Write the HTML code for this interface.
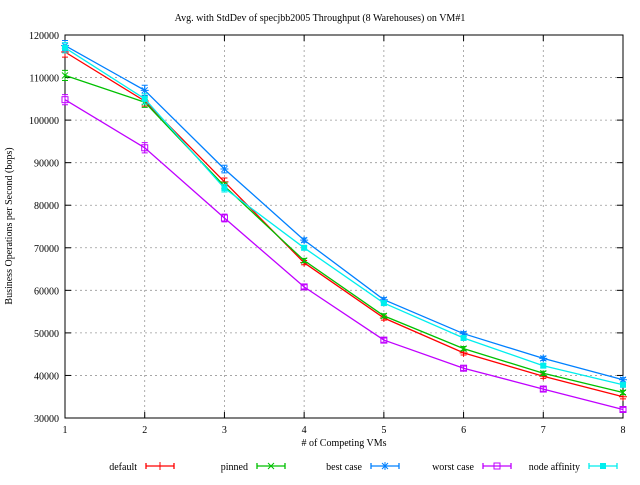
<!DOCTYPE html>
<html><head><meta charset="utf-8"><style>
html,body{margin:0;padding:0;background:#fff}
svg text{font-family:"Liberation Serif",serif;font-size:10px;fill:#000}
</style></head><body>
<svg id="s" width="640" height="480" xmlns="http://www.w3.org/2000/svg"></svg>
<script>
var s=document.getElementById('s'),h='';
var L=65,R=623,T=35,B=418;
function X(i){return L+(i-1)*(R-L)/7}
function Y(v){return B-(v-30000)/90000*(B-T)}
h+='<rect width="640" height="480" fill="#fff"/>';
h+='<text x="320" y="21" text-anchor="middle">Avg. with StdDev of specjbb2005 Throughput (8 Warehouses) on VM#1</text>';
for(var v=30000;v<=120000;v+=10000){var y=Y(v);
 if(v>30000&&v<120000)h+='<line x1="'+L+'" x2="'+R+'" y1="'+y+'" y2="'+y+'" stroke="#999" stroke-width="0.8" stroke-dasharray="2,3"/>';
 h+='<line x1="'+L+'" x2="'+(L+6)+'" y1="'+y+'" y2="'+y+'" stroke="#000"/><line x1="'+R+'" x2="'+(R-6)+'" y1="'+y+'" y2="'+y+'" stroke="#000"/>';
 h+='<text x="'+(L-6)+'" y="'+(y+4)+'" text-anchor="end">'+v+'</text>';}
for(var i=1;i<=8;i++){var x=X(i);
 if(i>1&&i<8)h+='<line x1="'+x+'" x2="'+x+'" y1="'+T+'" y2="'+B+'" stroke="#999" stroke-width="0.8" stroke-dasharray="2,3"/>';
 h+='<line x1="'+x+'" x2="'+x+'" y1="'+B+'" y2="'+(B-6)+'" stroke="#000"/><line x1="'+x+'" x2="'+x+'" y1="'+T+'" y2="'+(T+6)+'" stroke="#000"/>';
 h+='<text x="'+x+'" y="'+(B+15)+'" text-anchor="middle">'+i+'</text>';}
h+='<rect x="'+L+'" y="'+T+'" width="'+(R-L)+'" height="'+(B-T)+'" fill="none" stroke="#000"/>';
h+='<text x="344" y="446" text-anchor="middle"># of Competing VMs</text>';
h+='<text transform="translate(12,226) rotate(-90)" text-anchor="middle">Business Operations per Second (bops)</text>';
var S=[
['default','#ff0000',[116000,104500,85500,66500,53500,45300,39800,35000],137,'+'],
['pinned','#00c000',[110500,104200,84500,67000,54000,46300,40500,36000],248,'x'],
['best case','#0080ff',[117500,107000,88500,71800,57800,49800,44000,39000],362,'*'],
['worst case','#c000ff',[104800,93500,77000,60800,48300,41700,36800,32000],474,'s'],
['node affinity','#00eeee',[117000,105000,84000,70000,57000,48800,42300,37800],580,'S']];
var E=[1200,1200,900,500,500,500,500,500];
function mk(x,y,t,c){
 if(t=='+')return '<path d="M'+(x-4)+' '+y+'h8M'+x+' '+(y-4)+'v8" stroke="'+c+'"/>';
 if(t=='x')return '<path d="M'+(x-3)+' '+(y-3)+'l6 6M'+(x-3)+' '+(y+3)+'l6 -6" stroke="'+c+'"/>';
 if(t=='*')return '<path d="M'+(x-3)+' '+(y-3)+'l6 6M'+(x-3)+' '+(y+3)+'l6 -6M'+(x-4)+' '+y+'h8M'+x+' '+(y-4)+'v8" stroke="'+c+'"/>';
 if(t=='s')return '<rect x="'+(x-3)+'" y="'+(y-3)+'" width="6" height="6" fill="none" stroke="'+c+'"/>';
 return '<rect x="'+(x-3)+'" y="'+(y-3)+'" width="6" height="6" fill="'+c+'"/>';}
S.forEach(function(d){var c=d[1],p='';
 d[2].forEach(function(v,k){var x=X(k+1),y=Y(v);p+=(k?'L':'M')+x.toFixed(1)+' '+y.toFixed(1);
  var e=E[k]*(B-T)/90000;h+='<path d="M'+x+' '+(y-e)+'V'+(y+e)+'M'+(x-3)+' '+(y-e)+'h6M'+(x-3)+' '+(y+e)+'h6" stroke="'+c+'" stroke-width="1"/>';
  h+=mk(x,y,d[4],c);});
 h+='<path d="'+p+'" fill="none" stroke="'+c+'" stroke-width="1.3"/>';
 var lx=d[3],ly=466;
 h+='<text x="'+lx+'" y="'+(ly+4)+'" text-anchor="end">'+d[0]+'</text>';
 h+='<path d="M'+(lx+9)+' '+ly+'H'+(lx+37)+'M'+(lx+9)+' '+(ly-3)+'v6M'+(lx+37)+' '+(ly-3)+'v6" stroke="'+c+'" stroke-width="1.3"/>';
 h+=mk(lx+23,ly,d[4],c);});
s.innerHTML=h;
</script>
</body></html>
